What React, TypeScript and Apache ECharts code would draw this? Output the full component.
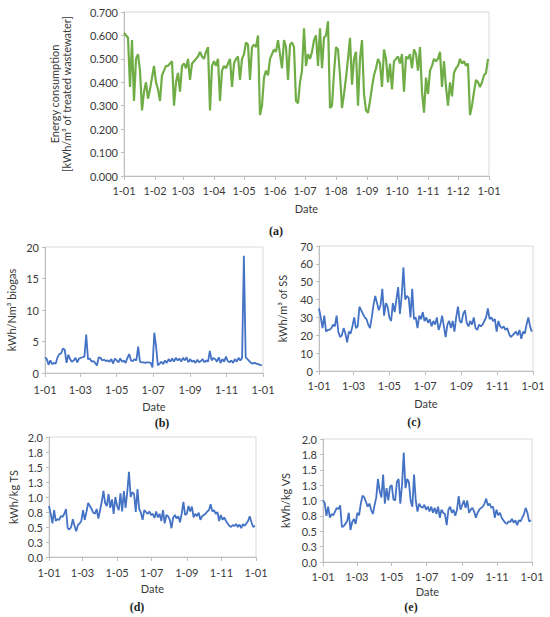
import React, { useEffect, useRef } from "react";
import * as echarts from "echarts";

// ---- Data ----
// (a) energy consumption, one value every 2 days from 1 Jan
const energyStepDays = 2;
const energyA = [
  0.61,0.60,0.59,0.38,0.58,0.32,0.50,0.52,0.45,0.28,
  0.36,0.40,0.33,0.37,0.42,0.47,0.40,0.37,0.32,0.43,
  0.45,0.47,0.47,0.48,0.49,0.30,0.40,0.44,0.36,0.47,
  0.48,0.46,0.50,0.41,0.48,0.49,0.50,0.51,0.53,0.51,
  0.50,0.53,0.55,0.28,0.47,0.49,0.47,0.50,0.32,0.45,
  0.47,0.46,0.48,0.50,0.38,0.48,0.50,0.51,0.41,0.50,
  0.52,0.57,0.56,0.41,0.55,0.56,0.55,0.60,0.26,0.30,
  0.42,0.45,0.43,0.50,0.52,0.54,0.53,0.58,0.52,0.46,
  0.58,0.55,0.41,0.56,0.57,0.55,0.32,0.31,0.40,0.45,
  0.63,0.47,0.52,0.50,0.53,0.58,0.60,0.47,0.63,0.46,
  0.59,0.60,0.66,0.29,0.30,0.44,0.55,0.54,0.43,0.29,
  0.35,0.42,0.50,0.59,0.39,0.50,0.53,0.30,0.50,0.58,
  0.35,0.28,0.27,0.32,0.38,0.43,0.46,0.50,0.48,0.38,
  0.54,0.50,0.40,0.48,0.37,0.49,0.50,0.51,0.48,0.52,
  0.36,0.51,0.50,0.52,0.46,0.54,0.52,0.45,0.55,0.36,
  0.27,0.42,0.35,0.45,0.47,0.50,0.49,0.50,0.53,0.38,
  0.49,0.38,0.30,0.40,0.34,0.44,0.46,0.47,0.50,0.48,
  0.49,0.47,0.48,0.26,0.30,0.36,0.41,0.40,0.38,0.40,
  0.43,0.44,0.50,
];

// (b)-(e): one value every 3 days from 1 Jan
const seriesStepDays = 3;
const biogasB = [
  2.5,2.2,1.3,2.0,1.4,1.6,1.5,2.5,3.0,3.1,
  3.9,3.7,1.6,2.9,2.2,1.8,2.0,2.4,1.7,2.3,
  2.4,2.5,2.6,6.1,2.2,2.3,1.8,1.9,1.6,1.2,
  2.5,2.4,2.0,2.1,1.9,2.0,1.8,2.2,1.5,2.3,
  2.0,1.7,2.3,1.8,2.0,1.6,2.4,3.0,2.0,1.9,
  2.2,2.0,4.2,1.8,1.7,1.7,1.6,1.7,1.7,1.6,
  0.9,6.4,4.2,1.2,1.5,1.8,1.4,2.0,1.6,2.2,
  1.8,2.3,1.8,2.4,2.0,2.3,1.8,2.4,2.0,2.5,
  1.7,2.2,1.8,2.0,1.6,2.1,1.7,1.9,2.2,1.7,
  2.0,1.8,3.5,2.0,2.4,2.2,1.8,2.5,1.6,2.2,
  1.8,2.6,1.9,1.7,2.0,1.6,2.2,1.8,2.4,2.0,
  2.4,18.6,2.5,2.2,1.9,1.6,1.5,1.6,1.5,1.4,
  1.3,1.2,
];
const ssC = [
  35,30,24,31,22,23,23,24,26,25,
  31,22,19,20,24,21,16,22,21,25,
  30,24,25,36,34,32,30,29,26,24,
  30,37,42,38,34,37,46,31,38,36,
  30,28,38,33,40,47,32,42,58,40,
  42,41,30,46,29,30,24,31,29,33,
  28,30,27,29,25,28,26,30,23,26,
  31,25,19,26,28,24,28,22,30,36,
  28,27,32,34,27,25,28,26,30,24,
  23,26,25,26,28,30,35,29,30,28,
  29,22,28,25,24,25,23,24,21,19,
  20,21,22,20,23,18,22,21,26,30,
  25,22,
];
const tsD = [
  0.85,0.72,0.56,0.78,0.60,0.63,0.62,0.68,0.67,0.72,
  0.80,0.48,0.46,0.50,0.63,0.52,0.43,0.53,0.56,0.60,
  0.78,0.62,0.75,0.90,0.85,0.80,0.74,0.72,0.80,0.64,
  0.78,0.92,1.10,0.90,0.85,1.05,0.82,0.96,0.72,1.00,
  0.85,0.78,1.06,0.76,1.10,0.82,1.08,1.42,1.00,1.08,
  1.05,0.75,1.13,0.80,0.74,0.62,0.78,0.75,0.72,0.76,
  0.70,0.72,0.65,0.76,0.66,0.72,0.60,0.78,0.56,0.70,
  0.68,0.62,0.48,0.66,0.70,0.64,0.68,0.58,0.72,0.92,
  0.70,0.72,0.85,0.76,0.84,0.66,0.72,0.68,0.74,0.62,
  0.68,0.70,0.72,0.76,0.78,0.88,0.76,0.78,0.72,0.75,
  0.60,0.70,0.62,0.66,0.60,0.56,0.52,0.50,0.53,0.52,
  0.55,0.50,0.54,0.48,0.55,0.52,0.56,0.60,0.68,0.58,
  0.50,0.52,
];
const vsE = [
  1.00,0.96,0.75,0.90,0.72,0.78,0.76,0.82,0.88,0.86,
  0.92,0.57,0.58,0.62,0.66,0.80,0.52,0.65,0.70,0.62,
  0.80,0.76,0.95,1.08,1.05,0.98,0.90,0.95,0.85,0.78,
  0.92,1.05,1.35,1.15,1.05,1.42,0.95,1.20,1.00,1.22,
  1.25,1.02,1.00,1.30,1.35,0.95,1.25,1.78,1.20,1.35,
  1.30,1.00,0.90,1.42,1.00,0.82,0.95,0.90,0.88,0.93,
  0.85,0.90,0.82,0.90,0.80,0.88,0.78,0.90,0.72,0.85,
  0.80,0.78,0.60,0.85,0.90,0.80,0.85,0.75,0.85,1.07,
  0.85,0.92,1.00,0.88,1.00,0.80,0.85,0.88,0.82,0.72,
  0.80,0.85,0.88,0.90,0.95,1.03,0.92,0.95,0.88,0.90,
  0.72,0.85,0.76,0.80,0.72,0.68,0.64,0.62,0.66,0.65,
  0.70,0.64,0.68,0.60,0.68,0.66,0.72,0.78,0.88,0.80,
  0.66,0.68,
];

const yTitles = [
  "Energy consumption\n[kWh/m³ of treated wastewater]",
  "kWh/Nm³ biogas",
  "kWh/m³ of SS",
  "kWh/kg TS",
  "kWh/kg VS",
];
const captions = ["(a)", "(b)", "(c)", "(d)", "(e)"];
const xTitle = "Date";

// day categories: 1 Jan .. 1 Jan of next year, labelled "d-MM"
const dayCategories: string[] = [];
for (let d = 0; d <= 365; d++) {
  const dt = new Date(Date.UTC(2019, 0, 1) + d * 86400000);
  const mm = String(dt.getUTCMonth() + 1).padStart(2, "0");
  dayCategories.push(`${dt.getUTCDate()}-${mm}`);
}

const FONT = "Lato, 'Open Sans', sans-serif";
const TEXT = "#3a3a3a";
const AXIS = "#bfbfbf";
const FS = 11;

export default function App() {
  const ref = useRef<HTMLDivElement>(null);
  useEffect(() => {
    document.body.style.margin = "0";
    if (!ref.current) return;
    const chart = echarts.init(ref.current, null, { renderer: "svg" });

    const grids = [
      { left: 124, top: 12, width: 365, height: 164 },
      { left: 45, top: 247, width: 218, height: 126 },
      { left: 319, top: 246, width: 214, height: 125 },
      { left: 49, top: 437, width: 207, height: 120 },
      { left: 323, top: 439, width: 209, height: 123 },
    ].map((g) => ({ ...g, show: true, borderColor: "#d9d9d9", borderWidth: 1, backgroundColor: "transparent" }));

    const monthly = (_i: number, v: string) => v.startsWith("1-");
    const bimonthly = (_i: number, v: string) =>
      v.startsWith("1-") && parseInt(v.slice(2), 10) % 2 === 1;

    const xLabelMargins = [9, 11, 9, 10, 9];
    const xNameGaps = [27, 28, 27, 26, 24];
    const makeX = (gi: number) => {
      const fn = gi === 0 ? monthly : bimonthly;
      return {
        type: "category",
        gridIndex: gi,
        data: dayCategories,
        boundaryGap: false,
        name: xTitle,
        nameLocation: "middle",
        nameGap: xNameGaps[gi],
        nameTextStyle: { color: TEXT, fontFamily: FONT, fontSize: FS },
        axisLine: { lineStyle: { color: AXIS, width: 1 } },
        axisTick: { show: true, interval: fn, length: 4, lineStyle: { color: AXIS } },
        axisLabel: { interval: fn, color: TEXT, fontFamily: FONT, fontSize: FS, margin: xLabelMargins[gi] },
        splitLine: { show: false },
      };
    };

    const yCfg = [
      { min: 0, max: 0.7, interval: 0.1, fmt: (v: number) => v.toFixed(3), gap: 52 },
      { min: 0, max: 20, interval: 5, fmt: (v: number) => String(v), gap: 28 },
      { min: 0, max: 70, interval: 10, fmt: (v: number) => String(v), gap: 31 },
      { min: 0, max: 2, interval: 0.25, fmt: (v: number) => v.toFixed(1), gap: 30 },
      { min: 0, max: 2, interval: 0.25, fmt: (v: number) => v.toFixed(1), gap: 32 },
    ];
    const makeY = (gi: number) => ({
      type: "value",
      gridIndex: gi,
      min: yCfg[gi].min,
      max: yCfg[gi].max,
      interval: yCfg[gi].interval,
      name: yTitles[gi],
      nameLocation: "middle",
      nameGap: yCfg[gi].gap,
      nameTextStyle: { color: TEXT, fontFamily: FONT, fontSize: FS, lineHeight: 12 },
      axisLine: { show: true, lineStyle: { color: AXIS, width: 1 } },
      axisTick: { show: true, length: 3, lineStyle: { color: AXIS } },
      axisLabel: { color: TEXT, fontFamily: FONT, fontSize: FS, margin: 6, formatter: yCfg[gi].fmt },
      splitLine: { show: false },
    });

    const all = [energyA, biogasB, ssC, tsD, vsE];
    const steps = [energyStepDays, seriesStepDays, seriesStepDays, seriesStepDays, seriesStepDays];
    const colors = ["#70AD47", "#4472C4", "#4472C4", "#4472C4", "#4472C4"];
    const series = all.map((vals, gi) => ({
      type: "line",
      xAxisIndex: gi,
      yAxisIndex: gi,
      data: vals.map((v, i) => [i * steps[gi], v]),
      symbol: "none",
      lineStyle: { color: colors[gi], width: gi === 0 ? 2.2 : 1.8 },
      itemStyle: { color: colors[gi] },
    }));

    const capPos = [
      [276, 231],
      [162, 423],
      [414, 422],
      [137, 607],
      [411, 607],
    ];
    const graphic = captions.map((c, i) => ({
      type: "text",
      x: capPos[i][0],
      y: capPos[i][1],
      style: {
        text: c,
        fontFamily: "'Liberation Serif', 'DejaVu Serif', serif",
        fontWeight: "bold",
        fontSize: 12,
        fill: "#222",
        textAlign: "center",
        textVerticalAlign: "middle",
      },
    }));

    chart.setOption({
      animation: false,
      backgroundColor: "#ffffff",
      grid: grids,
      xAxis: [0, 1, 2, 3, 4].map(makeX),
      yAxis: [0, 1, 2, 3, 4].map(makeY),
      series,
      graphic,
    });
    return () => chart.dispose();
  }, []);
  return <div ref={ref} style={{ width: 550, height: 617 }} />;
}
